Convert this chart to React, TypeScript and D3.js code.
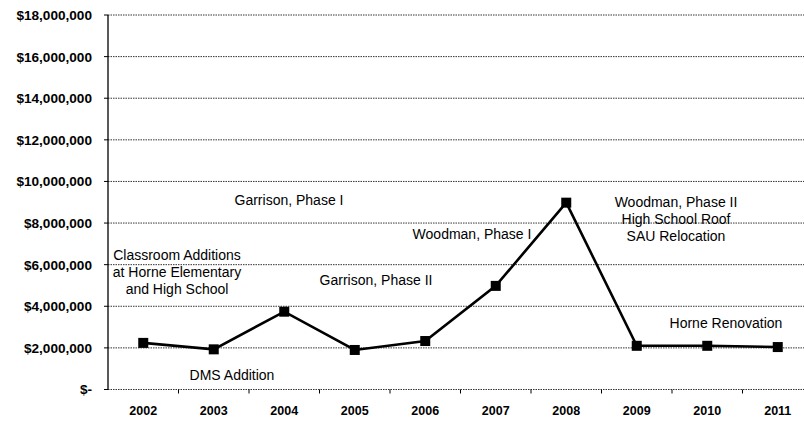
import React, { useRef, useEffect } from "react";
import { select, scaleLinear, scaleBand, line, range } from "d3";

const years = ["2002", "2003", "2004", "2005", "2006", "2007", "2008", "2009", "2010", "2011"];
const spending = [2240000, 1930000, 3740000, 1900000, 2330000, 4980000, 8980000, 2100000, 2100000, 2040000];
const yTicks = [0, 2000000, 4000000, 6000000, 8000000, 10000000, 12000000, 14000000, 16000000, 18000000];

interface Note {
  lines: string[];
  x: number;
  y: number;
}
const notes: Note[] = [
  { lines: ["Classroom Additions", "at Horne Elementary", "and High School"], x: 177, y: 255 },
  { lines: ["Garrison, Phase I"], x: 289, y: 200 },
  { lines: ["Garrison, Phase II"], x: 376, y: 280 },
  { lines: ["DMS Addition"], x: 232, y: 375 },
  { lines: ["Woodman, Phase I"], x: 472, y: 234 },
  { lines: ["Woodman, Phase II", "High School Roof", "SAU Relocation"], x: 676, y: 202 },
  { lines: ["Horne Renovation"], x: 726, y: 323 },
];

const fmt = (v: number) =>
  v === 0 ? "$-" : "$" + v.toLocaleString("en-US");

const App: React.FC = () => {
  const width = 804;
  const height = 422;
  const plotLeft = 108;
  const plotRight = 813;
  const plotTop = 15;
  const plotBottom = 389.5;
  const svgRef = useRef(null);

  useEffect(() => {
    const svg = select(svgRef.current);
    svg.selectAll("*").remove();
    const x = scaleBand().domain(years).range([plotLeft, plotRight]);
    const y = scaleLinear().domain([0, 18000000]).range([plotBottom, plotTop]);
    const cx = (d: string) => x(d)! + x.bandwidth() / 2;

    // gridlines
    svg
      .append("g")
      .selectAll("line")
      .data(yTicks)
      .join("line")
      .attr("x1", plotLeft)
      .attr("x2", width)
      .attr("y1", (d) => y(d))
      .attr("y2", (d) => y(d))
      .attr("stroke", "#333")
      .attr("stroke-width", 1)
      .attr("stroke-dasharray", "1.5,1");

    // y axis line + ticks
    svg
      .append("line")
      .attr("x1", plotLeft)
      .attr("x2", plotLeft)
      .attr("y1", plotTop)
      .attr("y2", plotBottom)
      .attr("stroke", "#000")
      .attr("stroke-width", 1.3);
    svg
      .append("g")
      .selectAll("line")
      .data(yTicks)
      .join("line")
      .attr("x1", plotLeft - 4)
      .attr("x2", plotLeft)
      .attr("y1", (d) => y(d))
      .attr("y2", (d) => y(d))
      .attr("stroke", "#000");
    svg
      .append("g")
      .selectAll("text")
      .data(yTicks)
      .join("text")
      .attr("x", 92)
      .attr("y", (d) => y(d))
      .attr("dy", "0.36em")
      .attr("text-anchor", "end")
      .attr("font-family", "Liberation Sans, Arial, sans-serif")
      .attr("font-weight", "bold")
      .attr("font-size", 13.6)
      .text((d) => fmt(d));

    // x ticks between categories
    svg
      .append("g")
      .selectAll("line")
      .data(range(1, years.length))
      .join("line")
      .attr("x1", (i) => x(years[i])!)
      .attr("x2", (i) => x(years[i])!)
      .attr("y1", plotBottom)
      .attr("y2", plotBottom + 4)
      .attr("stroke", "#000");
    svg
      .append("g")
      .selectAll("text")
      .data(years)
      .join("text")
      .attr("x", (d) => cx(d))
      .attr("y", 410)
      .attr("dy", "0.36em")
      .attr("text-anchor", "middle")
      .attr("font-family", "Liberation Sans, Arial, sans-serif")
      .attr("font-weight", "bold")
      .attr("font-size", 12.5)
      .text((d) => d);

    // series line
    const pts = years.map((d, i) => [cx(d), y(spending[i])] as [number, number]);
    svg
      .append("path")
      .attr("d", line()(pts))
      .attr("fill", "none")
      .attr("stroke", "#000")
      .attr("stroke-width", 2.6);
    svg
      .append("g")
      .selectAll("rect")
      .data(pts)
      .join("rect")
      .attr("x", (d) => d[0] - 5)
      .attr("y", (d) => d[1] - 5)
      .attr("width", 10)
      .attr("height", 10)
      .attr("fill", "#000");

    // annotations
    const g = svg
      .append("g")
      .attr("font-family", "Liberation Sans, Arial, sans-serif")
      .attr("font-size", 14)
      .attr("text-anchor", "middle");
    notes.forEach((n) => {
      const t = g.append("text").attr("x", n.x).attr("y", n.y);
      n.lines.forEach((s, i) => {
        t.append("tspan").attr("x", n.x).attr("dy", i === 0 ? "0.36em" : 17).text(s);
      });
    });
  }, []);

  return (
    <svg
      ref={svgRef}
      width={width}
      height={height}
      style={{ position: "absolute", left: 0, top: 0, background: "#fff" }}
    ></svg>
  );
};

export default App;
